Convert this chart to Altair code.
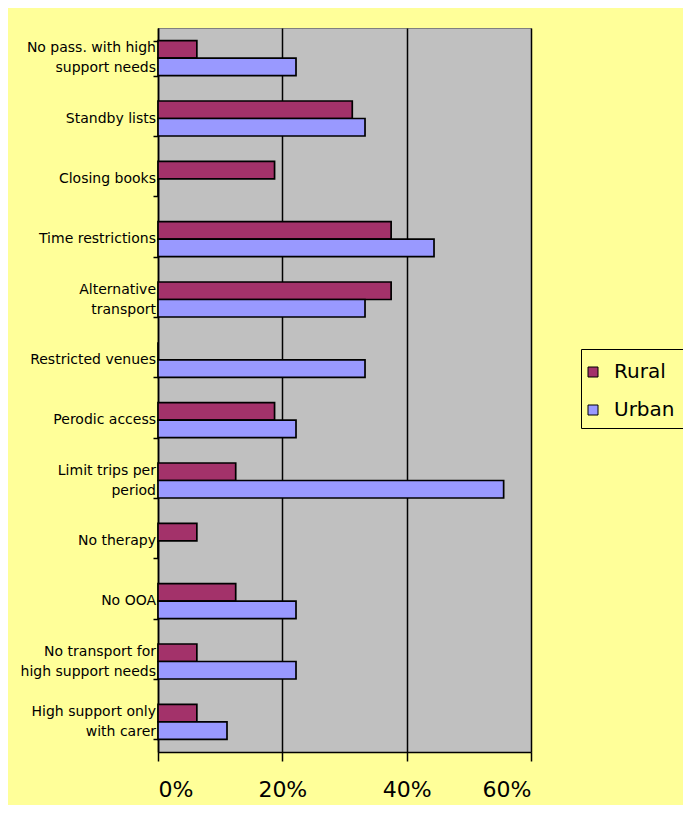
import altair as alt
import pandas as pd

categories = [
    "No pass. with high\nsupport needs",
    "Standby lists",
    "Closing books",
    "Time restrictions",
    "Alternative\ntransport",
    "Restricted venues",
    "Perodic access",
    "Limit trips per\nperiod",
    "No therapy",
    "No OOA",
    "No transport for\nhigh support needs",
    "High support only\nwith carer",
]
rural = [6.25, 31.25, 18.75, 37.5, 37.5, 0, 18.75, 12.5, 6.25, 12.5, 6.25, 6.25]
urban = [22.2, 33.3, 0, 44.4, 33.3, 33.3, 22.2, 55.6, 0, 22.2, 22.2, 11.1]
series = ["Rural", "Urban"]
colors = ["#A3326A", "#9999FF"]
x_ticks = [0, 20, 40, 60]

rows = []
for c, r, u in zip(categories, rural, urban):
    rows.append({"category": c, "series": "Rural", "value": r})
    rows.append({"category": c, "series": "Urban", "value": u})
df = pd.DataFrame(rows)

labels_df = pd.DataFrame(
    {"category": categories, "multi": ["\n" in c for c in categories]}
)

y_enc = alt.Y(
    "category:N",
    sort=categories,
    scale=alt.Scale(paddingInner=0.42, paddingOuter=0.21),
    axis=alt.Axis(
        title=None,
        labels=False,
        tickBand="extent",
        tickColor="black",
        tickSize=5,
        tickWidth=1.5,
        domainColor="black",
        domainWidth=1.5,
        grid=False,
    ),
)

bars = (
    alt.Chart(df)
    .mark_bar(stroke="black", strokeWidth=1.7)
    .encode(
        y=y_enc,
        yOffset=alt.YOffset("series:N", sort=series),
        x=alt.X(
            "value:Q",
            scale=alt.Scale(domain=[0, 60]),
            axis=alt.Axis(
                title=None,
                values=x_ticks,
                labelExpr="datum.value + '%'",
                labelFont="DejaVu Sans",
                labelFontSize=22,
                labelColor="black",
                labelPadding=18,
                tickSize=9,
                tickColor="black",
                tickWidth=1.5,
                domainColor="black",
                domainWidth=1.5,
                grid=True,
                gridColor="black",
                gridWidth=1.5,
            ),
        ),
        color=alt.Color(
            "series:N",
            scale=alt.Scale(domain=series, range=colors),
            legend=alt.Legend(
                title="\u00a0",
                titleFontSize=5,
                titlePadding=0,
                orient="none",
                legendX=423,
                legendY=321,
                padding=8,
                strokeColor="black",
                fillColor="#FFFF99",
                labelFont="DejaVu Sans",
                labelFontSize=20,
                labelColor="black",
                labelOffset=11,
                symbolOffset=-6,
                symbolType="square",
                symbolSize=100,
                symbolStrokeColor="black",
                symbolStrokeWidth=1,
                rowPadding=18,
            ),
        ),
    )
)

text_style = dict(
    align="right",
    baseline="middle",
    font="DejaVu Sans",
    fontSize=14,
    color="black",
    lineBreak="\n",
    lineHeight=20,
)

single_labels = (
    alt.Chart(labels_df)
    .transform_filter("!datum.multi")
    .mark_text(**text_style)
    .encode(y=alt.Y("category:N", sort=categories), x=alt.value(-2), text="category:N")
)
multi_labels = (
    alt.Chart(labels_df)
    .transform_filter("datum.multi")
    .mark_text(dy=-10, **text_style)
    .encode(y=alt.Y("category:N", sort=categories), x=alt.value(-2), text="category:N")
)

chart = (
    alt.layer(bars, single_labels, multi_labels)
    .properties(
        width=373,
        height=724,
        background="#FFFF99",
        padding={"left": 150, "top": 20, "right": 152, "bottom": 53},
        autosize="none",
    )
    .configure_view(fill="#C0C0C0", stroke="#808080", strokeWidth=1)
)

chart.save("out.html", embed_options={"renderer": "svg", "actions": False})
